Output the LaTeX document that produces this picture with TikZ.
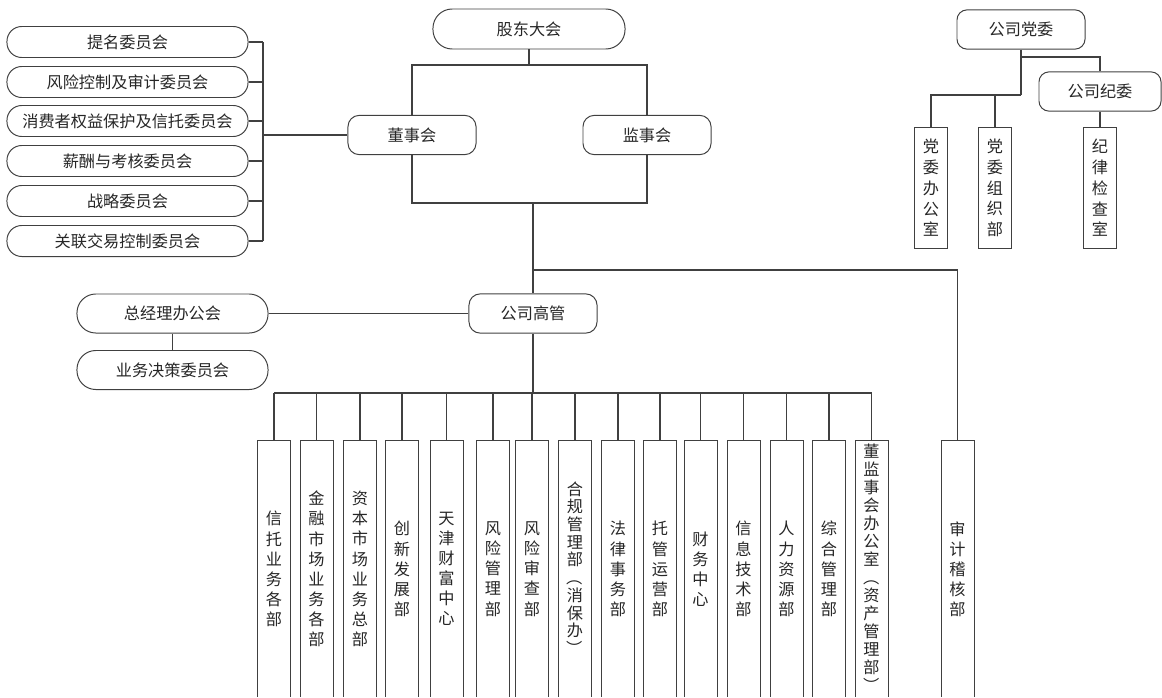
\documentclass[tikz,border=0pt]{standalone}
\usepackage{fontspec}
\newfontfamily\cjk{Noto Sans CJK SC}
\usetikzlibrary{positioning, calc}
\definecolor{chartline}{HTML}{404040}
\newcommand{\vlparen}{\rotatebox[origin=c]{-90}{（}}
\newcommand{\vrparen}{\rotatebox[origin=c]{-90}{）}}

\begin{document}
\begin{tikzpicture}[
        x=0.025cm, y=-0.025cm,
        every node/.style={text=black!85},
        link/.style={draw=chartline, line width=0.8pt},
        pill/.style={draw=chartline, line width=0.7pt, rounded corners=0.37cm, minimum width=6.025cm, minimum height=0.775cm, inner sep=0pt, font=\cjk\fontsize{11.5pt}{13pt}\selectfont},
        hub/.style={draw=chartline, line width=0.7pt, rounded corners=0.28cm, minimum width=3.2cm, minimum height=0.98cm, inner sep=0pt, font=\cjk\fontsize{11.5pt}{13pt}\selectfont},
        dept/.style={draw=chartline, line width=0.7pt, minimum width=0.825cm, minimum height=6.4cm, inner sep=0pt, align=center, font=\cjk\fontsize{11.5pt}{#1}\selectfont},
        dept/.default=14.3pt,
    ]
        \useasboundingbox (0,0) rectangle (1162,697);
        \clip (0,0) rectangle (1162,696);

        % Draw the top level nodes
        \node[hub, rounded corners=0.48cm, minimum width=4.8cm, minimum height=1cm] (Share) at (529,29) {股东大会};
        \node[hub] (Board) at (412,135) {董事会};
        \node[hub] (Super) at (647,135) {监事会};
        \node[hub] (Exec) at (533,313.5) {公司高管};

        % Draw the committees of the board
        \foreach \name / \y / \txt in {1/42/提名委员会, 2/82/风险控制及审计委员会, 3/121/消费者权益保护及信托委员会, 4/161/薪酬与考核委员会, 5/201/战略委员会, 6/241/关联交易控制委员会}
            \node[pill] (C-\name) at (127.5,\y) {\txt};

        % Draw the meetings beside the management
        \node[pill, minimum width=4.775cm, minimum height=0.975cm, rounded corners=0.47cm] (GM) at (172.5,313.5) {总经理办公会};
        \node[pill, minimum width=4.775cm, minimum height=0.975cm, rounded corners=0.47cm] (Dec) at (172.5,370) {业务决策委员会};

        % Draw the party nodes
        \node[hub, rounded corners=0.25cm] (Party) at (1021,29.5) {公司党委};
        \node[hub, minimum width=3.05cm, rounded corners=0.25cm] (Disc) at (1100,91.5) {公司纪委};
        \foreach \name / \x / \txt in {1/931/{党\\委\\办\\公\\室}, 2/995/{党\\委\\组\\织\\部}, 3/1100/{纪\\律\\检\\查\\室}}
            \node[dept=14.8pt, minimum height=3cm] (P-\name) at (\x,188) {\txt};

        % Draw the departments
        \foreach \name / \x / \skip / \txt in {1/274/14.3pt/{信\\托\\业\\务\\各\\部}, 2/316.5/14.3pt/{金\\融\\市\\场\\业\\务\\各\\部}, 3/360/14.3pt/{资\\本\\市\\场\\业\\务\\总\\部}, 4/402/14.3pt/{创\\新\\发\\展\\部}, 5/446.5/14.3pt/{天\\津\\财\\富\\中\\心}, 6/493/14.3pt/{风\\险\\管\\理\\部}, 7/532/14.3pt/{风\\险\\审\\查\\部}, 8/575/12.6pt/{合\\规\\管\\理\\部\\\vlparen\\消\\保\\办\\\vrparen}, 9/618/14.3pt/{法\\律\\事\\务\\部}, 10/660/14.3pt/{托\\管\\运\\营\\部}, 11/700.5/14.3pt/{财\\务\\中\\心}, 12/743.5/14.3pt/{信\\息\\技\\术\\部}, 13/786.5/14.3pt/{人\\力\\资\\源\\部}, 14/829/14.3pt/{综\\合\\管\\理\\部}, 15/871.5/12.8pt/{董\\监\\事\\会\\办\\公\\室\\\vlparen\\资\\产\\管\\理\\部\\\vrparen}, 16/957.5/14.3pt/{审\\计\\稽\\核\\部}}
            \node[dept=\skip] (D-\name) at (\x,569) {\txt};

        % Connect the board and the supervisors
        \coordinate (top-bar) at (529,65);
        \coordinate (mid-bar) at (533,203);
        \draw[link] (Share.south) -- (Share.south |- top-bar);
        \draw[link] (Board.north) -- (Board.north |- top-bar) -- (Super.north |- top-bar) -- (Super.north);
        \draw[link] (Board.south) -- (Board.south |- mid-bar) -- (Super.south |- mid-bar) -- (Super.south);
        \draw[link] (mid-bar) -- (Exec.north);

        % Connect the committees with the board
        \coordinate (brace) at (263,135);
        \foreach \name in {1,...,6}
            \draw[link] (C-\name.east) -- (C-\name.east -| brace);
        \draw[link] (C-1.east -| brace) -- (C-6.east -| brace);
        \draw[link] (brace) -- (Board.west);

        % Connect the management with its meetings
        \draw[link] (GM.east) -- (Exec.west);
        \draw[link] (GM.south) -- (Dec.north);

        % Connect the audit department
        \coordinate (audit-bar) at (533,270);
        \draw[link] (audit-bar) -- (D-16.north |- audit-bar) -- (D-16.north);

        % Connect every department with the management
        \coordinate (bus) at (533,393);
        \draw[link] (Exec.south) -- (Exec.south |- bus);
        \draw[link] (D-1.north |- bus) -- (D-15.north |- bus);
        \foreach \name in {1,...,15}
            \draw[link] (D-\name.north |- bus) -- (D-\name.north);

        % Connect the party nodes
        \coordinate (party-bar) at (1021,57);
        \coordinate (office-bar) at (1021,95);
        \draw[link] (Party.south) -- (office-bar);
        \draw[link] (Party.south |- party-bar) -- (Disc.north |- party-bar) -- (Disc.north);
        \draw[link] (office-bar) -- (P-1.north |- office-bar) -- (P-1.north);
        \draw[link] (P-2.north |- office-bar) -- (P-2.north);
        \draw[link] (Disc.south) -- (P-3.north);
    \end{tikzpicture}
\end{document}
